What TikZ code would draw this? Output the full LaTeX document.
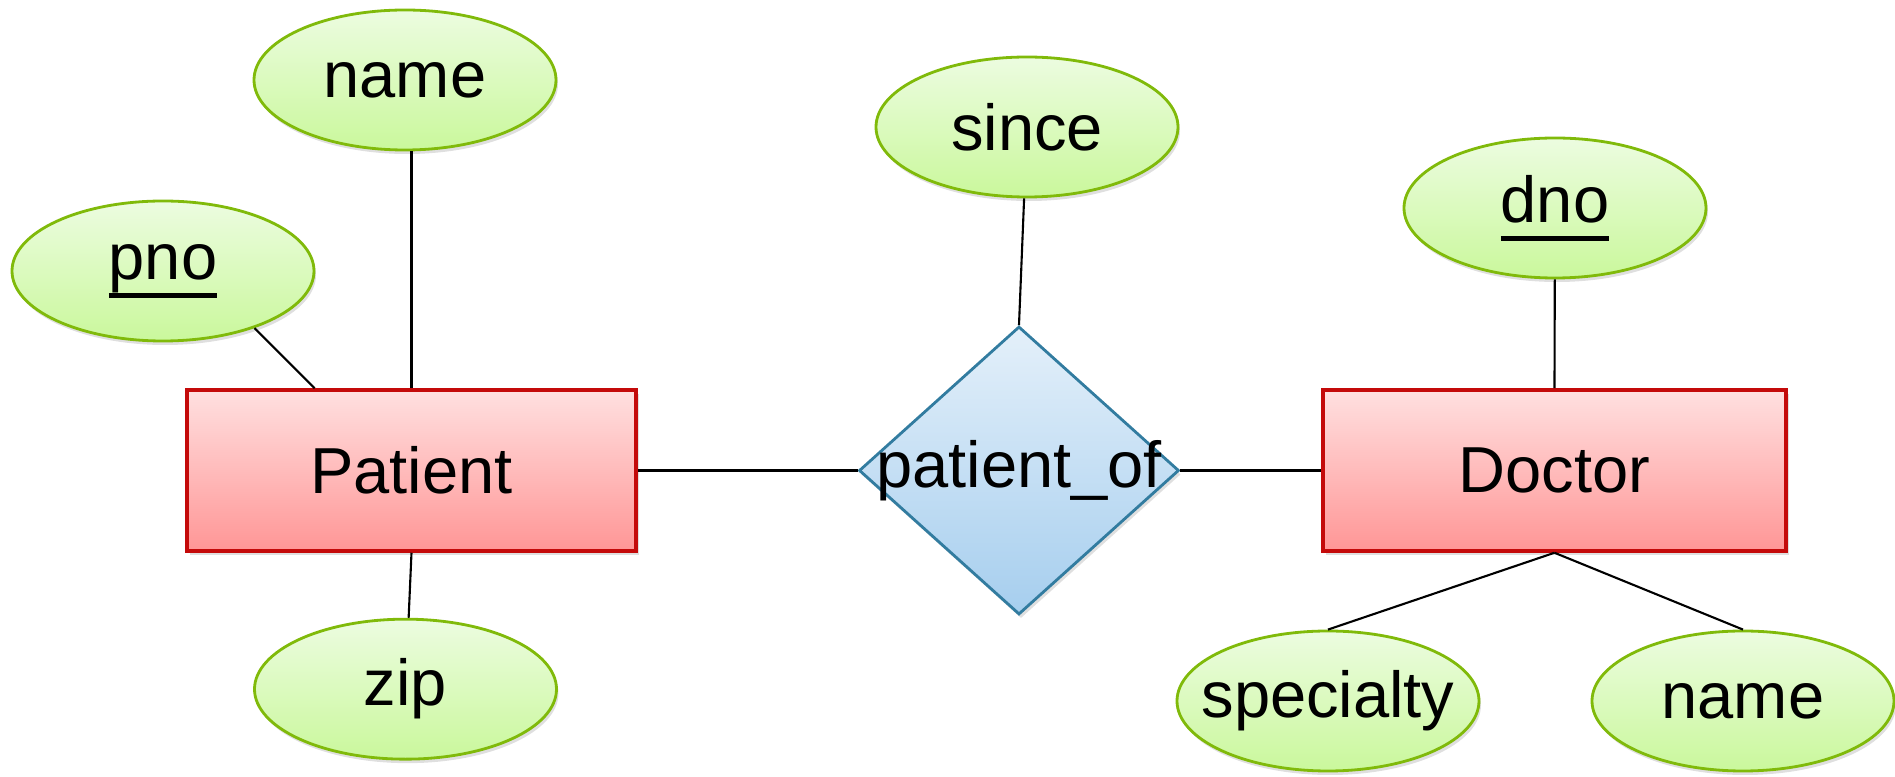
\documentclass[tikz,border=0pt]{standalone}
\usepackage{fontspec}
\setmainfont{Liberation Sans}
\usetikzlibrary{positioning, shapes.geometric, shadows, calc}

\definecolor{attrline}{RGB}{128,186,10}
\definecolor{attrtop}{RGB}{236,252,224}
\definecolor{attrbot}{RGB}{202,248,156}
\definecolor{entline}{RGB}{196,10,10}
\definecolor{enttop}{RGB}{255,224,224}
\definecolor{entbot}{RGB}{255,150,150}
\definecolor{relline}{RGB}{50,124,160}
\definecolor{reltop}{RGB}{228,240,250}
\definecolor{relbot}{RGB}{166,206,238}

% key attributes: thick underline
\newcommand{\keyattr}[1]{\setbox0=\hbox{#1}\rlap{\rule[-0.28em]{\wd0}{1.3pt}}\box0}

\tikzset{
  attr/.style={ellipse, draw=attrline, line width=0.8pt, top color=attrtop, bottom color=attrbot,
    minimum width=3.02cm, minimum height=1.40cm, inner ysep=0pt, inner xsep=-0.5cm,
    drop shadow={shadow xshift=0.02cm, shadow yshift=-0.04cm, opacity=0.25}},
  entity/.style={rectangle, draw=entline, line width=1pt, top color=enttop, bottom color=entbot,
    minimum height=1.61cm, inner sep=0pt,
    drop shadow={shadow xshift=0.03cm, shadow yshift=-0.04cm, opacity=0.25}},
  rel/.style={diamond, draw=relline, line width=0.8pt, top color=reltop, bottom color=relbot,
    minimum width=3.2cm, minimum height=2.88cm, inner sep=0pt,
    drop shadow={shadow xshift=0.02cm, shadow yshift=-0.04cm, opacity=0.25}},
  link/.style={draw=black, line width=0.6pt}
}

\begin{document}
\begin{tikzpicture}[font=\fontsize{18.5}{22}\selectfont]
    \useasboundingbox (0,0) rectangle (18.95,-7.77);

    % entities and relationship
    \node [entity, minimum width=4.49cm] (patient) at (4.115,-4.705) {Patient};
    \node [entity, minimum width=4.63cm] (doctor) at (15.545,-4.705) {Doctor};
    \node [rel, label=center:{patient\_of}] (patientof) at (10.19,-4.705) {};

    % attributes
    \node [attr] (pname) at (4.05,-0.80) {name};
    \node [attr] (pno) at (1.63,-2.71) {\keyattr{pno}};
    \node [attr, below=0.65cm of patient, xshift=-0.06cm] (zip) {zip};
    \node [attr] (since) at (10.27,-1.27) {since};
    \node [attr] (dno) at (15.55,-2.08) {\keyattr{dno}};
    \node [attr] (specialty) at (13.28,-7.01) {specialty};
    \node [attr] (dname) at (17.43,-7.01) {name};

    \coordinate (pnofoot) at ($(patient.north west)!0.286!(patient.north east)$);

    \draw [link] (pno.-32) -- (pnofoot);
    \draw [link] (pname.south -| patient.north) -- (patient.north);
    \draw [link] (patient.south) -- (zip);
    \draw [link] (patient.east) -- (patientof.west);
    \draw [link] (patientof.east) -- (doctor.west);
    \draw [link] (since) -- (patientof.north);
    \draw [link] (dno) -- (doctor.north);
    \draw [link] (doctor.south) -- (specialty.north);
    \draw [link] (doctor.south) -- (dname.north);
\end{tikzpicture}
\end{document}
